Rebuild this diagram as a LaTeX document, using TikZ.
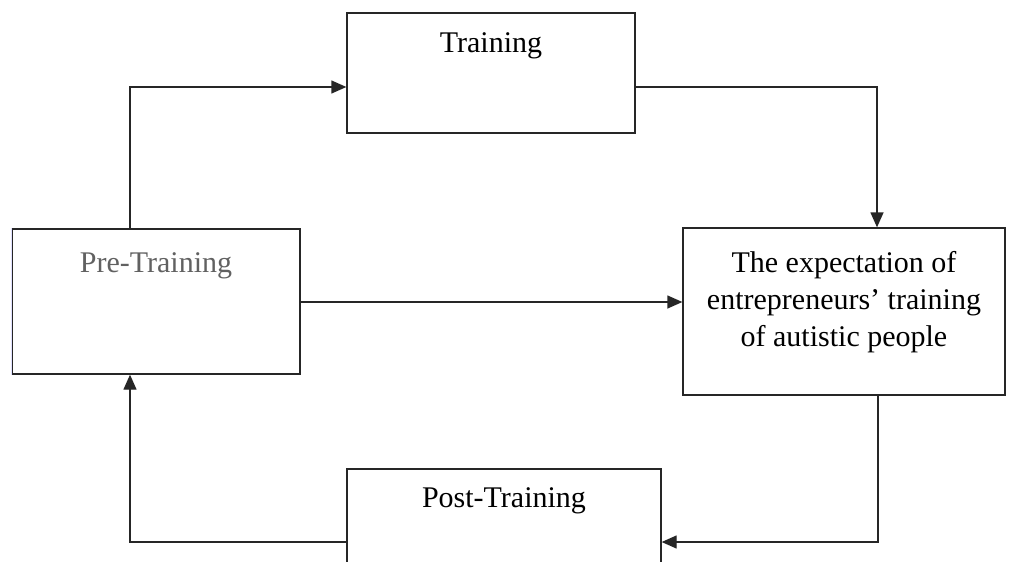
\documentclass[tikz,border=0pt]{standalone}
\usepackage{fontspec}
\setmainfont{Liberation Serif}
\usetikzlibrary{arrows.meta}
\colorlet{box edge}{black!85}
\colorlet{faded text}{black!62}
\tikzset{stage/.style={draw=box edge, line width=1.3pt, inner sep=0pt},
	stagetext/.style={anchor=north, inner sep=0pt, align=center,
		font=\fontsize{30}{37}\selectfont},
	flow/.style={draw=box edge, line width=1.3pt,
		-{Triangle[length=15pt,width=13pt]}}}

\begin{document}
\begin{tikzpicture}[x=1pt,y=-1pt]
		\clip (0,0) rectangle (1009,562);
		\node[stage, minimum width=288pt, minimum height=145pt,
			label={[stagetext, text=faded text, yshift=-24pt]north:Pre-Training}] (pre) at (156,301.5) {};
		\draw[white!88!blue, line width=1.6pt] (pre.north west) -- (pre.south west);
		\node[stage, minimum width=288pt, minimum height=120pt,
			label={[stagetext, yshift=-20pt]north:Training}] (train) at (491,73) {};
		\node[stage, minimum width=322pt, minimum height=167pt,
			label={[stagetext, yshift=-24pt]north:The expectation of\\entrepreneurs’ training\\of autistic people}] (expect) at (844,311.5) {};
		\node[stage, minimum width=314pt, minimum height=171pt,
			label={[stagetext, yshift=-19pt]north:Post-Training}] (post) at (504,554.5) {};
		
		\coordinate (up) at (130,87);
		\coordinate (over) at (877,87);
		\coordinate (mid) at (300,302);
		\coordinate (down) at (878,542);
		\coordinate (back) at (130,542);
		\draw[flow] (pre.north -| up) -- (up) -- (train.west |- up);
		\draw[flow] (train.east |- over) -- (over) -- (expect.north -| over);
		\draw[flow] (pre.east |- mid) -- (expect.west |- mid);
		\draw[flow] (expect.south -| down) -- (down) -- (post.east |- down);
		\draw[flow] (post.west |- back) -- (back) -- (pre.south -| back);
		\end{tikzpicture}
\end{document}
